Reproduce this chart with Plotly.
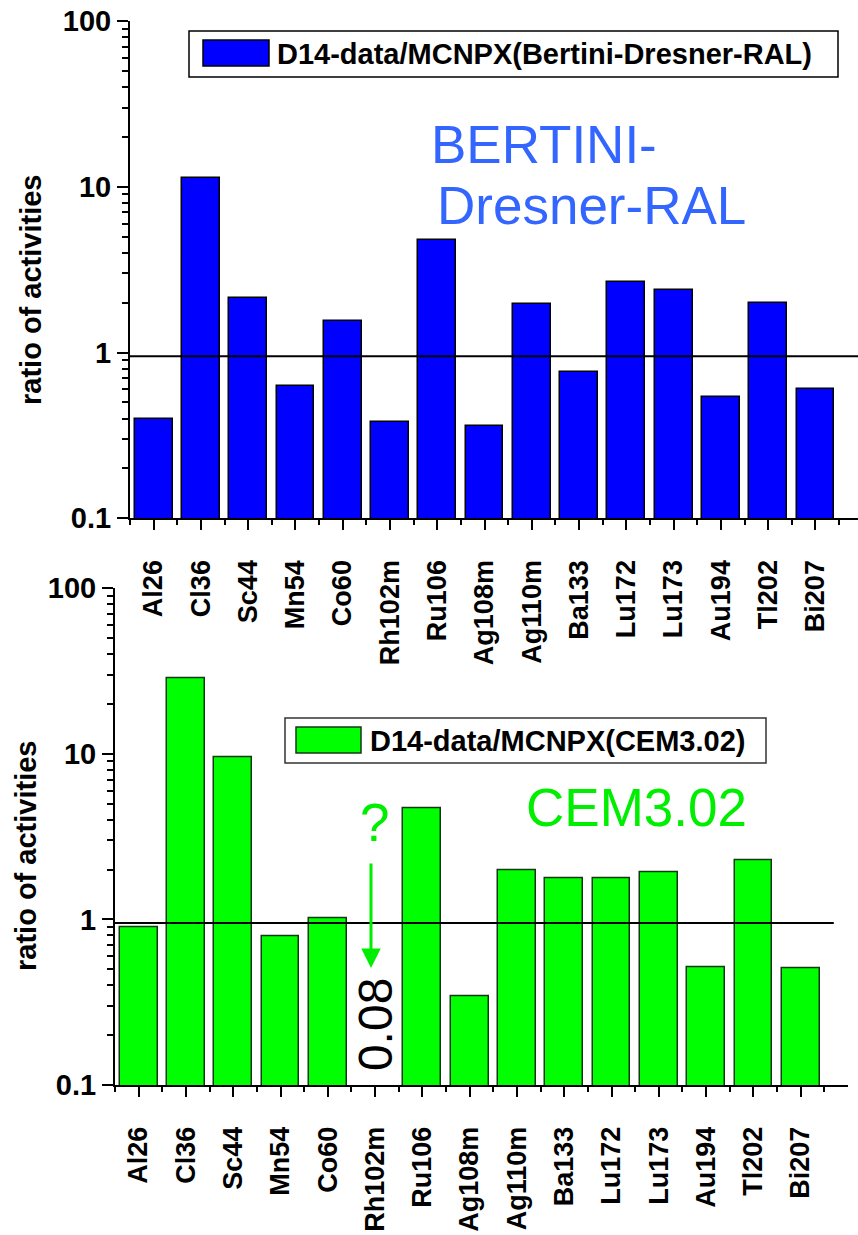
import plotly.graph_objects as go

# Isotopes measured in the D14 target
isotopes = ["Al26", "Cl36", "Sc44", "Mn54", "Co60", "Rh102m", "Ru106", "Ag108m",
            "Ag110m", "Ba133", "Lu172", "Lu173", "Au194", "Tl202", "Bi207"]

# Ratio of measured to calculated activities
ratio_bertini = [0.40, 11.25, 2.14, 0.63, 1.54, 0.381, 4.77, 0.362,
                 1.95, 0.764, 2.65, 2.38, 0.542, 1.99, 0.604]
ratio_cem = [0.895, 28.5, 9.6, 0.79, 1.01, 0.08, 4.71, 0.345,
             1.99, 1.76, 1.78, 1.93, 0.517, 2.29, 0.51]

name_bertini = "D14-data/MCNPX(Bertini-Dresner-RAL)"
name_cem = "D14-data/MCNPX(CEM3.02)"
reference_level = 0.95

y_tickvals = [0.1, 1, 10, 100]
y_ticktext = ["0.1", "1", "10", "100"]
y_minor = [m * 10 ** e for e in (-1, 0, 1) for m in range(2, 10)]

W, H = 858, 1235
FONT = "Liberation Sans, Arial, sans-serif"
BLUE_TEXT = "#3366FF"
GREEN_TEXT = "#00EE00"


def px(x):
    return x / W


def py(y):
    return 1 - y / H


positions = list(range(len(isotopes)))

fig = go.Figure()

fig.add_trace(go.Bar(
    x=positions, y=ratio_bertini, width=0.8, name=name_bertini,
    marker=dict(color="#0000FF", line=dict(color="#000000", width=1.5)),
    xaxis="x", yaxis="y", showlegend=False,
))
fig.add_trace(go.Scatter(
    x=[-0.5, 14.9], y=[reference_level, reference_level], mode="lines",
    line=dict(color="black", width=2), xaxis="x", yaxis="y",
    showlegend=False, hoverinfo="skip",
))

fig.add_trace(go.Bar(
    x=positions, y=ratio_cem, width=0.8, name=name_cem,
    marker=dict(color="#00FF00", line=dict(color="#143814", width=1.5)),
    xaxis="x2", yaxis="y2", showlegend=False,
))
fig.add_trace(go.Scatter(
    x=[-0.5, 14.7], y=[reference_level, reference_level], mode="lines",
    line=dict(color="black", width=2), xaxis="x2", yaxis="y2",
    showlegend=False, hoverinfo="skip",
))

tick_font = dict(family=FONT, size=29, color="black", weight="bold")
xlabel_font = dict(family=FONT, size=27, color="black", weight="bold")


def xaxis_style(domain, rng, anchor):
    return dict(
        domain=domain, range=rng, anchor=anchor, automargin=False,
        tickmode="array", tickvals=positions, ticktext=isotopes,
        tickangle=-90, tickfont=xlabel_font, ticklabelstandoff=19,
        ticks="outside", ticklen=10, tickwidth=2, tickcolor="black",
        minor=dict(tick0=-0.5, dtick=1, ticks="outside", ticklen=5,
                   tickwidth=2, tickcolor="black", showgrid=False),
        showline=True, linewidth=2, linecolor="black",
        showgrid=False, zeroline=False, fixedrange=True,
    )


def yaxis_style(domain, anchor):
    return dict(
        domain=domain, type="log", range=[-1, 2], anchor=anchor,
        automargin=False,
        tickmode="array", tickvals=y_tickvals, ticktext=y_ticktext,
        tickfont=tick_font, ticks="outside", ticklen=11, tickwidth=2,
        tickcolor="black",
        minor=dict(tickmode="array", tickvals=y_minor, ticks="outside",
                   ticklen=6, tickwidth=1.5, tickcolor="black", showgrid=False),
        showline=True, linewidth=2, linecolor="black",
        showgrid=False, zeroline=False, fixedrange=True,
    )


fig.update_layout(
    width=W, height=H,
    margin=dict(l=0, r=0, t=0, b=0, autoexpand=False),
    paper_bgcolor="white", plot_bgcolor="white",
    bargap=0,
    xaxis=xaxis_style([px(130), 1.0], [-0.5, 14.9], "y"),
    yaxis=yaxis_style([py(518.3), py(21)], "x"),
    xaxis2=xaxis_style([px(115), px(848)], [-0.5, 15], "y2"),
    yaxis2=yaxis_style([py(1085), py(588.3)], "x2"),
    showlegend=False,
)

shapes = [
    # legend frame and swatch, upper panel
    dict(type="rect", xref="paper", yref="paper", x0=px(189), x1=px(838),
         y0=py(77), y1=py(31), line=dict(color="black", width=1.5),
         fillcolor="white"),
    dict(type="rect", xref="paper", yref="paper", x0=px(203), x1=px(269),
         y0=py(66), y1=py(40), line=dict(color="black", width=1.5),
         fillcolor="#0000FF"),
    # legend frame and swatch, lower panel
    dict(type="rect", xref="paper", yref="paper", x0=px(285), x1=px(766),
         y0=py(763), y1=py(718), line=dict(color="#333333", width=1.5),
         fillcolor="white"),
    dict(type="rect", xref="paper", yref="paper", x0=px(296), x1=px(361),
         y0=py(753), y1=py(727), line=dict(color="#143814", width=1.5),
         fillcolor="#00FF00"),
]
fig.update_layout(shapes=shapes)

legend_font = dict(family=FONT, size=29, color="black", weight="bold")
title_font = dict(family=FONT, size=29, color="black", weight="bold")

rh_index = isotopes.index("Rh102m")

annotations = [
    dict(text=name_bertini, x=px(275), y=py(54), xref="paper", yref="paper",
         xanchor="left", yanchor="middle", showarrow=False, font=legend_font),
    dict(text=name_cem, x=px(368), y=py(741), xref="paper", yref="paper",
         xanchor="left", yanchor="middle", showarrow=False, font=legend_font),
    dict(text="ratio of activities", x=px(31), y=py(290), xref="paper",
         yref="paper", textangle=-90, showarrow=False, font=title_font,
         xanchor="center", yanchor="middle"),
    dict(text="ratio of activities", x=px(26), y=py(856), xref="paper",
         yref="paper", textangle=-90, showarrow=False, font=title_font,
         xanchor="center", yanchor="middle"),
    dict(text="BERTINI-", x=px(429), y=py(144), xref="paper", yref="paper",
         xanchor="left", yanchor="middle", showarrow=False,
         font=dict(family=FONT, size=53, color=BLUE_TEXT)),
    dict(text="Dresner-RAL", x=px(435), y=py(205), xref="paper", yref="paper",
         xanchor="left", yanchor="middle", showarrow=False,
         font=dict(family=FONT, size=53, color=BLUE_TEXT)),
    dict(text="CEM3.02", x=px(524), y=py(807), xref="paper", yref="paper",
         xanchor="left", yanchor="middle", showarrow=False,
         font=dict(family=FONT, size=53, color=GREEN_TEXT)),
    dict(text="?", x=px(374), y=py(822), xref="paper", yref="paper",
         xanchor="center", yanchor="middle", showarrow=False,
         font=dict(family=FONT, size=53, color=GREEN_TEXT)),
    dict(text="", x=px(371), y=py(968), xref="paper", yref="paper",
         ax=0, ay=-106, axref="pixel", ayref="pixel", showarrow=True,
         arrowhead=2, arrowsize=1.3, arrowwidth=3, arrowcolor=GREEN_TEXT),
    dict(text=f"{ratio_cem[rh_index]:.2f}", x=rh_index, y=py(1025),
         xref="x2", yref="paper", textangle=-90, showarrow=False,
         xanchor="center", yanchor="middle",
         font=dict(family=FONT, size=48, color="black")),
]
fig.update_layout(annotations=annotations)

fig.write_html("out.html")
